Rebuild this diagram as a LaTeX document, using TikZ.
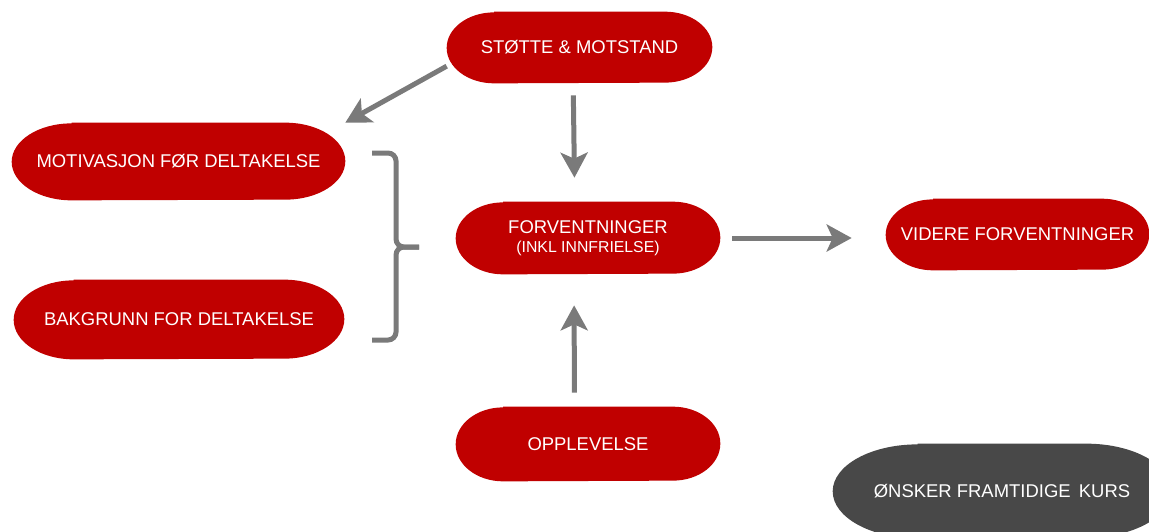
\documentclass[tikz,border=0pt]{standalone}
\usepackage{fontspec}
\setmainfont{Liberation Sans}
\usetikzlibrary{arrows.meta,backgrounds}
\definecolor{boxred}{HTML}{C00000}
\definecolor{boxgrey}{HTML}{484848}
\definecolor{arrowgrey}{HTML}{7A7A7A}
\tikzset{
  pill/.style={text=white, minimum height=1.44cm,
    font=\fontsize{10.5}{12}\selectfont, align=center},
  flow/.style={draw=arrowgrey, line width=0.1cm, -{Stealth[length=0.5cm,width=0.54cm,inset=0.12cm]}},
  bracket/.style={draw=arrowgrey, line width=0.1cm, rounded corners=0.16cm},
}
\begin{document}
\begin{tikzpicture}[x=0.02cm,y=-0.02cm]
  \clip (0,0) rectangle (1149,531);

  % boxes
  \node[pill, minimum width=5.3cm, minimum height=1.42cm] (stotte) at (579.5,47.5) {STØTTE \& MOTSTAND};
  \node[pill, minimum width=6.66cm, minimum height=1.54cm] (motiv) at (178.5,161.5) {MOTIVASJON FØR DELTAKELSE};
  \node[pill, minimum width=6.6cm, minimum height=1.58cm] (bakgr) at (179,319.5) {BAKGRUNN FOR DELTAKELSE};
  \node[pill, minimum width=5.28cm] (forv) at (588,238)
    {FORVENTNINGER\\[-1pt]{\fontsize{9}{10}\selectfont (INKL INNFRIELSE)}};
  \node[pill, minimum width=5.26cm, minimum height=1.42cm] (videre) at (1017.5,234.5) {VIDERE FORVENTNINGER};
  \node[pill, minimum width=5.28cm, minimum height=1.48cm] (opp) at (588,444) {OPPLEVELSE};
  \node[pill, minimum width=6.76cm, minimum height=1.88cm] (onsker) at (1002,491) {ØNSKER FRAMTIDIGE\, KURS};

  % pill shaped fills behind the texts (ends are half ellipses)
  \begin{scope}[on background layer]
    \foreach \nm/\c/\rx/\ry in {stotte/boxred/0.95cm/0.71cm, motiv/boxred/1.2cm/0.77cm,
        bakgr/boxred/1.2cm/0.79cm, forv/boxred/0.95cm/0.72cm, videre/boxred/0.95cm/0.71cm,
        opp/boxred/0.95cm/0.74cm, onsker/boxgrey/1.7cm/0.94cm}
      \fill[\c] ([xshift=\rx]\nm.north west) -- ([xshift=-\rx]\nm.north east)
        arc[start angle=90, end angle=-90, x radius=\rx, y radius=\ry]
        -- ([xshift=\rx]\nm.south west)
        arc[start angle=270, end angle=90, x radius=\rx, y radius=\ry] -- cycle;
  \end{scope}

  % arrows
  \draw[flow] (stotte.188) -- (motiv.north east);
  \draw[flow, shorten <=0.24cm, shorten >=0.48cm] (stotte.260) -- (forv.110);
  \draw[flow, shorten <=0.24cm, shorten >=0.68cm] (forv.east) -- (videre.west |- forv.east);
  \draw[flow, shorten <=0.28cm, shorten >=0.62cm] (opp.110) -- (forv.249);

  % bracket round the two left boxes
  \draw[bracket] (372,153) -| (396,247) -- (419,247);
  \draw[bracket] (372,340) -| (396,247) -- (419,247);
\end{tikzpicture}
\end{document}
